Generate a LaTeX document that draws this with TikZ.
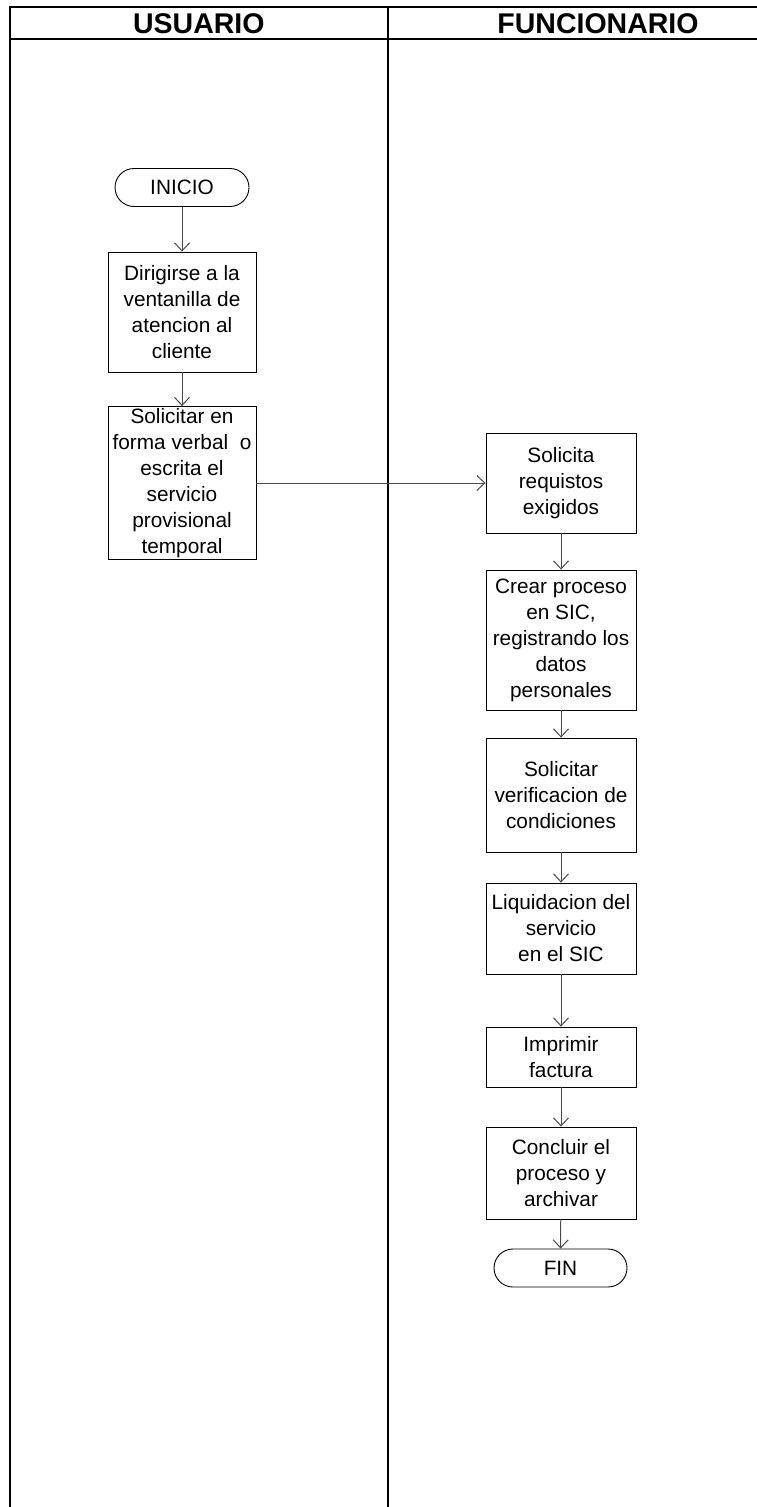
\documentclass[tikz,border=0pt]{standalone}
\usepackage{fontspec}
\setmainfont{Liberation Sans}
\usetikzlibrary{arrows.meta}
\definecolor{flowline}{HTML}{4A4A4A}
\begin{document}
\begin{tikzpicture}[x=1pt,y=-1pt,
  lane/.style={line width=2pt,black},
  hdr/.style={font=\fontsize{28.5}{30}\selectfont\bfseries,anchor=base,inner sep=0pt},
  procbox/.style={draw=black,line width=0.9pt,align=center,inner sep=0pt,
    font=\fontsize{20.8}{26}\selectfont},
  term/.style={draw=black,line width=0.9pt,rounded corners=19pt,inner sep=0pt,
    minimum width=134pt,minimum height=38pt,font=\fontsize{20.8}{26}\selectfont},
  flow/.style={draw=flowline,line width=1pt,-{Straight Barb[length=8pt,width=15pt,line width=1pt]}}
]
\useasboundingbox (0,0) rectangle (756,1507);
\fill[white] (0,0) rectangle (756,1507);

% swimlane table
\draw[lane] (10,1508) -- (10,6.7) -- (760,6.7);
\draw[lane] (9,39.3) -- (760,39.3);
\draw[lane] (387.7,6.7) -- (387.7,1508);
\node[hdr] (hu) at (198.8,33) {USUARIO};
\node[hdr] (hf) at (598,33) {FUNCIONARIO};

% user column
\node[term] (ini) at (182,187.5) {INICIO};
\node[procbox,minimum width=148pt,minimum height=120pt] (b1) at (182,312)
  {Dirigirse a la\\ventanilla de\\atencion al\\cliente};
\node[procbox,minimum width=148pt,minimum height=153pt] (b2) at (182,483)
  {Solicitar en\\forma verbal\ \ o\\escrita el\\servicio\\provisional\\temporal};

% officer column
\node[procbox,minimum width=150pt,minimum height=100pt] (b3) at (561,483)
  {Solicita\\requistos\\exigidos};
\node[procbox,minimum width=150pt,minimum height=140pt] (b4) at (561,640)
  {Crear proceso\\en SIC,\\registrando los\\datos\\personales};
\node[procbox,minimum width=150pt,minimum height=114pt] (b5) at (561,795)
  {Solicitar\\verificacion de\\condiciones};
\node[procbox,minimum width=150pt,minimum height=91pt] (b6) at (561,928.5)
  {Liquidacion del\\servicio\\en el SIC};
\node[procbox,minimum width=150pt,minimum height=60pt] (b7) at (561,1057)
  {Imprimir\\factura};
\node[procbox,minimum width=150pt,minimum height=92pt] (b8) at (561,1173)
  {Concluir el\\proceso y\\archivar};
\node[term,minimum width=133pt] (fin) at (560.5,1268) {FIN};

% connectors
\draw[flow] (ini) -- (b1);
\draw[flow] (b1) -- (b2);
\draw[flow] (b2.east) -- (b3.west);
\draw[flow] (b3) -- (b4);
\draw[flow] (b4) -- (b5);
\draw[flow] (b5) -- (b6);
\draw[flow] (b6) -- (b7);
\draw[flow] (b7) -- (b8);
\draw[flow] (b8) -- (fin);
\end{tikzpicture}
\end{document}
